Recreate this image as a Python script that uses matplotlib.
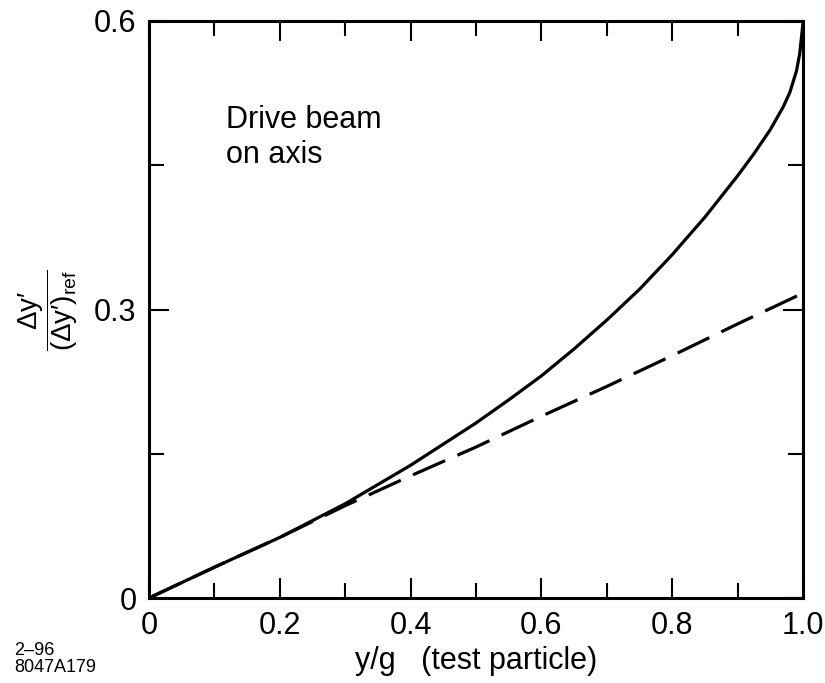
import matplotlib
matplotlib.use("Agg")
import matplotlib.pyplot as plt
from matplotlib.ticker import MultipleLocator, FixedLocator

plt.rcParams['font.family'] = ['Liberation Sans', 'DejaVu Sans']
plt.rcParams['mathtext.fontset'] = 'custom'
plt.rcParams['mathtext.rm'] = 'Liberation Sans'
plt.rcParams['mathtext.it'] = 'Liberation Sans'
plt.rcParams['mathtext.bf'] = 'Liberation Sans:bold'

# Data
x_solid = [0.0, 0.1, 0.2, 0.3, 0.4, 0.5, 0.55, 0.6, 0.65, 0.7, 0.75, 0.8, 0.85,
           0.9, 0.925, 0.95, 0.97, 0.98, 0.99, 0.995, 1.0]
y_solid = [0.0, 0.032, 0.063, 0.098, 0.138, 0.182, 0.206, 0.231, 0.259, 0.289,
           0.321, 0.357, 0.396, 0.439, 0.462, 0.487, 0.511, 0.526, 0.548, 0.566, 0.598]

x_dash = [0.0, 0.1, 0.2, 0.3, 0.4, 0.5, 0.6, 0.7, 0.8, 0.9, 1.0]
y_dash = [0.0, 0.032, 0.063, 0.096, 0.127, 0.157, 0.189, 0.220, 0.252, 0.285, 0.317]

x_ticks = [0.0, 0.2, 0.4, 0.6, 0.8, 1.0]
x_ticklabels = ['0', '0.2', '0.4', '0.6', '0.8', '1.0']
y_ticks = [0.0, 0.3, 0.6]
y_ticklabels = ['0', '0.3', '0.6']

fig = plt.figure(figsize=(8.25, 6.83), dpi=100)
ax = fig.add_axes([149/825, 85/683, 654/825, 577/683])

ax.plot(x_solid, y_solid, color='black', lw=2.3, solid_capstyle='butt',
        solid_joinstyle='round')
ax.plot(x_dash, y_dash, color='black', lw=2.3, linestyle=(0, (11, 4.2)),
        dash_capstyle='butt')

ax.set_xlim(0, 1.0)
ax.set_ylim(0, 0.6)
ax.set_xticks(x_ticks)
ax.set_xticklabels(x_ticklabels)
ax.set_yticks(y_ticks)
ax.set_yticklabels(y_ticklabels)
ax.xaxis.set_minor_locator(MultipleLocator(0.1))
ax.yaxis.set_minor_locator(FixedLocator([0.15, 0.45]))

for s in ax.spines.values():
    s.set_linewidth(2.2)

ax.tick_params(which='major', direction='in', length=14.5, width=1.5,
               top=True, right=True, labelsize=22)
ax.tick_params(which='minor', direction='in', length=11, width=1.5,
               top=True, right=True)
ax.tick_params(axis='x', which='major', pad=9)
ax.tick_params(axis='y', which='major', pad=9)

ax.text(0.117, 0.855, 'Drive beam\non axis', transform=ax.transAxes,
        fontsize=22, ha='left', va='top', linespacing=1.25)

ax.set_xlabel('y/g   (test particle)', fontsize=22, labelpad=4)

fig.text(48/825, 1 - 310/683, r"$\dfrac{\mathrm{Δy′}}{(\mathrm{Δy′})_{\mathrm{ref}}}$",
         rotation=90, ha='center', va='center', fontsize=20)

fig.text(14/825, 1 - 659/683, '2–96\n8047A179', fontsize=13, ha='left',
         va='center', linespacing=0.95)

fig.savefig('out.png', dpi=100)
